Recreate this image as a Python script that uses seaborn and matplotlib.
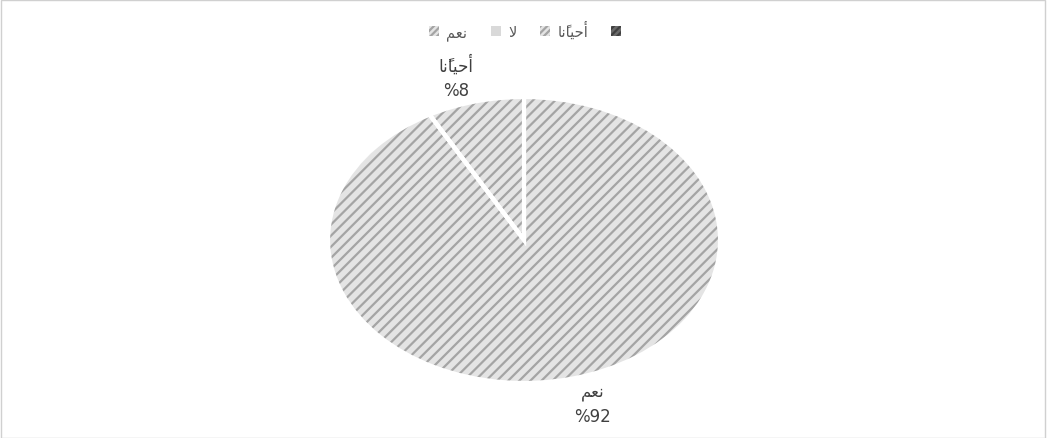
import numpy as np
import matplotlib
matplotlib.use("Agg")
import matplotlib.pyplot as plt
from matplotlib.patches import Patch, Rectangle
import seaborn as sns

# Arabic labels written in shaped presentation forms, visual order (no bidi engine here)
categories = ["\uFEE2\uFECC\uFEE7",                                  # نعم
              "\uFEFB",                                              # لا
              "\uFE8E\uFEE7\u064B\uFE8E\uFEF4\uFEA3\uFE83"]          # أحيانًا
values = [92, 0, 8]
pct_labels = ["%92", "%0", "%8"]
legend_extra = ""  # fourth (empty) legend entry

sns.set_theme(style="white")
plt.rcParams['font.family'] = ['DejaVu Sans']
plt.rcParams['hatch.linewidth'] = 1.6

fig = plt.figure(figsize=(10.47, 4.39), dpi=100)
fig.patch.set_facecolor("white")
ax = fig.add_axes([0.3133, 0.1253, 0.3744, 0.6515])

face = "#e4e4e4"
hatchc = "#a4a4a4"
# hatched fill
ax.pie(values, startangle=90, counterclock=False, radius=1,
       colors=[face, "#d9d9d9", face],
       wedgeprops=dict(hatch="///", edgecolor=hatchc, linewidth=0))
# white separators
ax.pie(values, startangle=90, counterclock=False, radius=1,
       colors=["none"] * 3,
       wedgeprops=dict(edgecolor="white", linewidth=3))
ax.set_aspect("auto")
ax.set_xlim(-1, 1)
ax.set_ylim(-1, 1)

# data labels outside each non-zero slice
total = sum(values)
start = 90.0
for cat, v, p in zip(categories, values, pct_labels):
    span = 360.0 * v / total
    mid = np.deg2rad(start - span / 2)
    start -= span
    if v == 0:
        continue
    ax.text(1.4 * np.cos(mid), 1.18 * np.sin(mid), cat + "\n" + p,
            ha="center", va="center", fontsize=12, color="#404040",
            linespacing=1.45)

handles = [
    Patch(facecolor=face, edgecolor=hatchc, hatch="/////", linewidth=0),
    Patch(facecolor="#d9d9d9", edgecolor="#d9d9d9", linewidth=0),
    Patch(facecolor=face, edgecolor=hatchc, hatch="/////", linewidth=0),
    Patch(facecolor="#6a6a6a", edgecolor="#404040", hatch="/////", linewidth=0),
]
fig.legend(handles, categories + [legend_extra], loc="upper center",
           bbox_to_anchor=(0.505, 0.98), ncol=4, frameon=False,
           fontsize=10.5, labelcolor="#595959", handlelength=0.7,
           handleheight=0.7, handletextpad=0.5, columnspacing=1.6)

fig.add_artist(Rectangle((0.0005, 0.001), 0.998, 0.997, transform=fig.transFigure,
                         fill=False, edgecolor="#d0d0d0", linewidth=1))

fig.savefig("out.png", dpi=100)
